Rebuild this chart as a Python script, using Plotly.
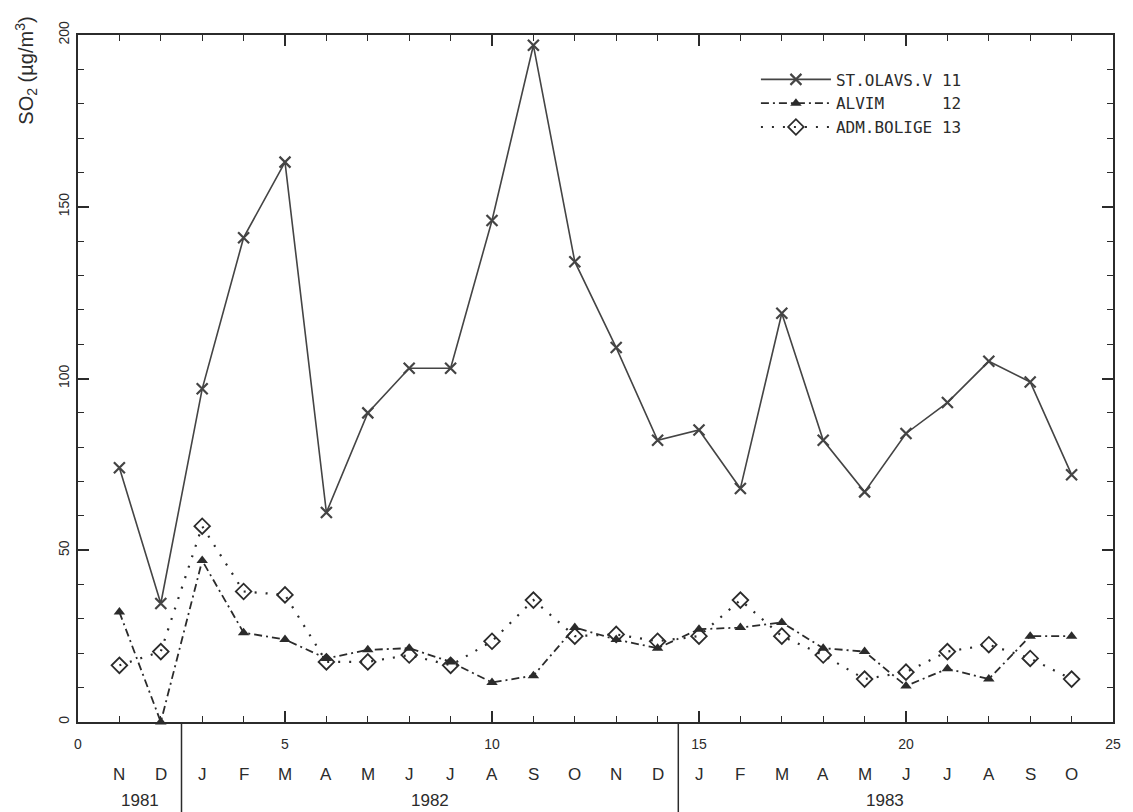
import plotly.graph_objects as go

# ---- data ----
month_index = list(range(1, 25))
month_labels = ["N", "D", "J", "F", "M", "A", "M", "J", "J", "A", "S", "O",
                "N", "D", "J", "F", "M", "A", "M", "J", "J", "A", "S", "O"]
years = ["1981", "1982", "1983"]
year_centers = [1.5, 8.5, 19.5]
year_breaks = [2.5, 14.5]

st_olavs = [74, 34.5, 97, 141, 163, 61, 90, 103, 103, 146, 197, 134,
            109, 82, 85, 68, 119, 82, 67, 84, 93, 105, 99, 72]
alvim = [32, 0, 47, 26, 24, 18.5, 21, 21.5, 17.5, 11.5, 13.5, 27.5,
         24, 21.5, 27, 27.5, 29, 21.5, 20.5, 10.5, 15.5, 12.5, 25, 25]
adm_bolige = [16.5, 20.5, 57, 38, 37, 17.5, 17.5, 19.5, 16.5, 23.5, 35.5, 25,
              25.5, 23.5, 25, 35.5, 25, 19.5, 12.5, 14.5, 20.5, 22.5, 18.5, 12.5]

series_names = ["ST.OLAVS.V\u00a011", "ALVIM\u00a0\u00a0\u00a0\u00a0\u00a0\u00a012", "ADM.BOLIGE\u00a013"]

ink = "#2b2b2b"
fig = go.Figure()
fig.add_trace(go.Scatter(
    x=month_index, y=st_olavs, name=series_names[0], mode="lines+markers",
    line=dict(color="#444444", width=1.6),
    marker=dict(symbol="x-thin-open", size=11, line=dict(color=ink, width=2.2)),
    cliponaxis=False))
fig.add_trace(go.Scatter(
    x=month_index, y=alvim, name=series_names[1], mode="lines+markers",
    line=dict(color=ink, width=1.8, dash="8px,4px,2px,4px"),
    marker=dict(symbol="triangle-up", size=10, color=ink),
    cliponaxis=False))
fig.add_trace(go.Scatter(
    x=month_index, y=adm_bolige, name=series_names[2], mode="lines+markers",
    line=dict(color=ink, width=2.2, dash="2px,9px"),
    marker=dict(symbol="diamond-open", size=12, color=ink, line=dict(width=1.8)),
    cliponaxis=False))

annotations = []
for xi, lab in zip(month_index, month_labels):
    annotations.append(dict(x=xi, y=-0.077, xref="x", yref="paper", text=lab,
                            yanchor="middle", showarrow=False,
                            font=dict(size=17, color=ink, family="Liberation Sans")))
for xc, yr in zip(year_centers, years):
    annotations.append(dict(x=xc, y=-0.114, xref="x", yref="paper", text=yr,
                            yanchor="middle", showarrow=False,
                            font=dict(size=17, color=ink, family="Liberation Sans")))
annotations.append(dict(x=-0.05, y=1.03, xref="paper", yref="paper",
                        text="SO<sub>2</sub> (µg/m<sup>3</sup>)", textangle=-90,
                        xanchor="center", yanchor="top", showarrow=False,
                        font=dict(size=20, color=ink, family="Liberation Sans")))

shapes = [dict(type="line", xref="x", yref="paper", x0=b, x1=b, y0=0, y1=-0.14,
               line=dict(color=ink, width=1.5)) for b in year_breaks]

fig.update_layout(
    width=1133, height=812,
    margin=dict(l=78, r=16, t=35, b=90),
    paper_bgcolor="white", plot_bgcolor="white",
    showlegend=True,
    legend=dict(x=0.655, y=0.96, xanchor="left", yanchor="top",
                bgcolor="rgba(0,0,0,0)", itemwidth=70, tracegroupgap=0,
                font=dict(family="DejaVu Sans Mono", size=16, color=ink)),
    annotations=annotations, shapes=shapes,
    font=dict(family="Liberation Sans", color=ink),
)
fig.update_xaxes(range=[0, 25], tickmode="linear", tick0=0, dtick=5,
                 ticks="inside", ticklen=11, tickwidth=1.5, tickcolor=ink,
                 minor=dict(dtick=1, ticks="inside", ticklen=6, tickwidth=1.3, tickcolor=ink),
                 showline=True, linecolor=ink, linewidth=1.6, mirror="ticks",
                 showgrid=False, zeroline=False,
                 tickfont=dict(size=14, color=ink), ticklabelstandoff=8)
fig.update_yaxes(range=[0, 200], tickmode="linear", tick0=0, dtick=50,
                 ticks="inside", ticklen=11, tickwidth=1.5, tickcolor=ink,
                 minor=dict(dtick=10, ticks="inside", ticklen=6, tickwidth=1.3, tickcolor=ink),
                 showline=True, linecolor=ink, linewidth=1.6, mirror="ticks",
                 showgrid=False, zeroline=False, tickangle=-90,
                 tickfont=dict(size=14, color=ink), ticklabelstandoff=2)

fig.write_html("out.html")
